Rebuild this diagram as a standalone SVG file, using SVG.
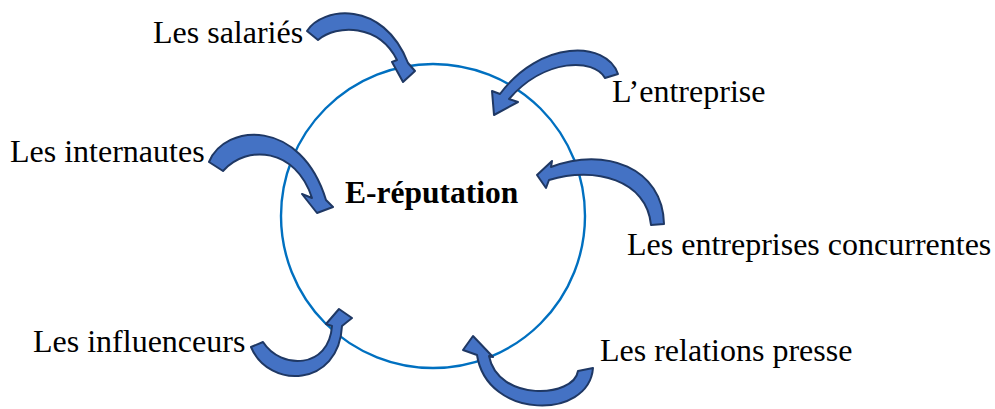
<svg xmlns="http://www.w3.org/2000/svg" width="995" height="409" viewBox="0 0 995 409">
  <style>
    .lbl { font-family: "Liberation Serif", "Times New Roman", serif; font-size: 32px; fill: #000; }
    .center { font-weight: bold; font-size: 31.5px; }
    .ring { fill: none; stroke: #0070C0; stroke-width: 2.4; }
    .arrow { fill: #4472C4; stroke: #1F3864; stroke-width: 2; stroke-linejoin: round; }
  </style>
  <rect width="995" height="409" fill="#fff"/>

  <g id="ereputation">
    <circle class="ring" cx="433" cy="216" r="152"/>
    <text class="lbl center" x="345" y="203">E-réputation</text>
  </g>

  <g id="salaries">
    <text class="lbl" x="153" y="43">Les salariés</text>
  </g>
  <g id="entreprise">
    <text class="lbl" x="612" y="102">L’entreprise</text>
  </g>
  <g id="internautes">
    <text class="lbl" x="10" y="162">Les internautes</text>
  </g>
  <g id="concurrentes">
    <text class="lbl" x="627" y="255">Les entreprises concurrentes</text>
  </g>
  <g id="influenceurs">
    <text class="lbl" x="33" y="352">Les influenceurs</text>
  </g>
  <g id="presse">
    <text class="lbl" x="600" y="361">Les relations presse</text>
  </g>

  <!-- curved arrows pointing into the ring -->
  <g id="connectors">
    <path class="arrow" d="M307,31 C322,7 383,-1 408,63 L415,71 L403,82 L392,62 L397,60 C379,24 337,24 318,40 Z"/>
    <path class="arrow" d="M618,74 C606,40 540,40 500,94 L492,91 L494,115 L518,102 L509,99 C545,58 594,58 605,78 Z"/>
    <path class="arrow" d="M209,162 C225,123 301,118 326,200 L333,207 L317,213 L302,194 L312,198 C296,148 247,144 223,171 Z"/>
    <path class="arrow" d="M664,224 C663,168 605,146 551,167 L552,161 L537,175 L546,188 L549,180 C595,166 647,180 651,225 Z"/>
    <path class="arrow" d="M251,347 C269,390 339,387 342,326 L352,318 L339,309 L326,324 L332,326 C329,369 281,370 263,342 Z"/>
    <path class="arrow" d="M593,368 C589,420 487,420 477,355 L463,350 L473,336 L493,357 L489,356 C498,402 574,398 578,371 Z"/>
  </g>
</svg>
